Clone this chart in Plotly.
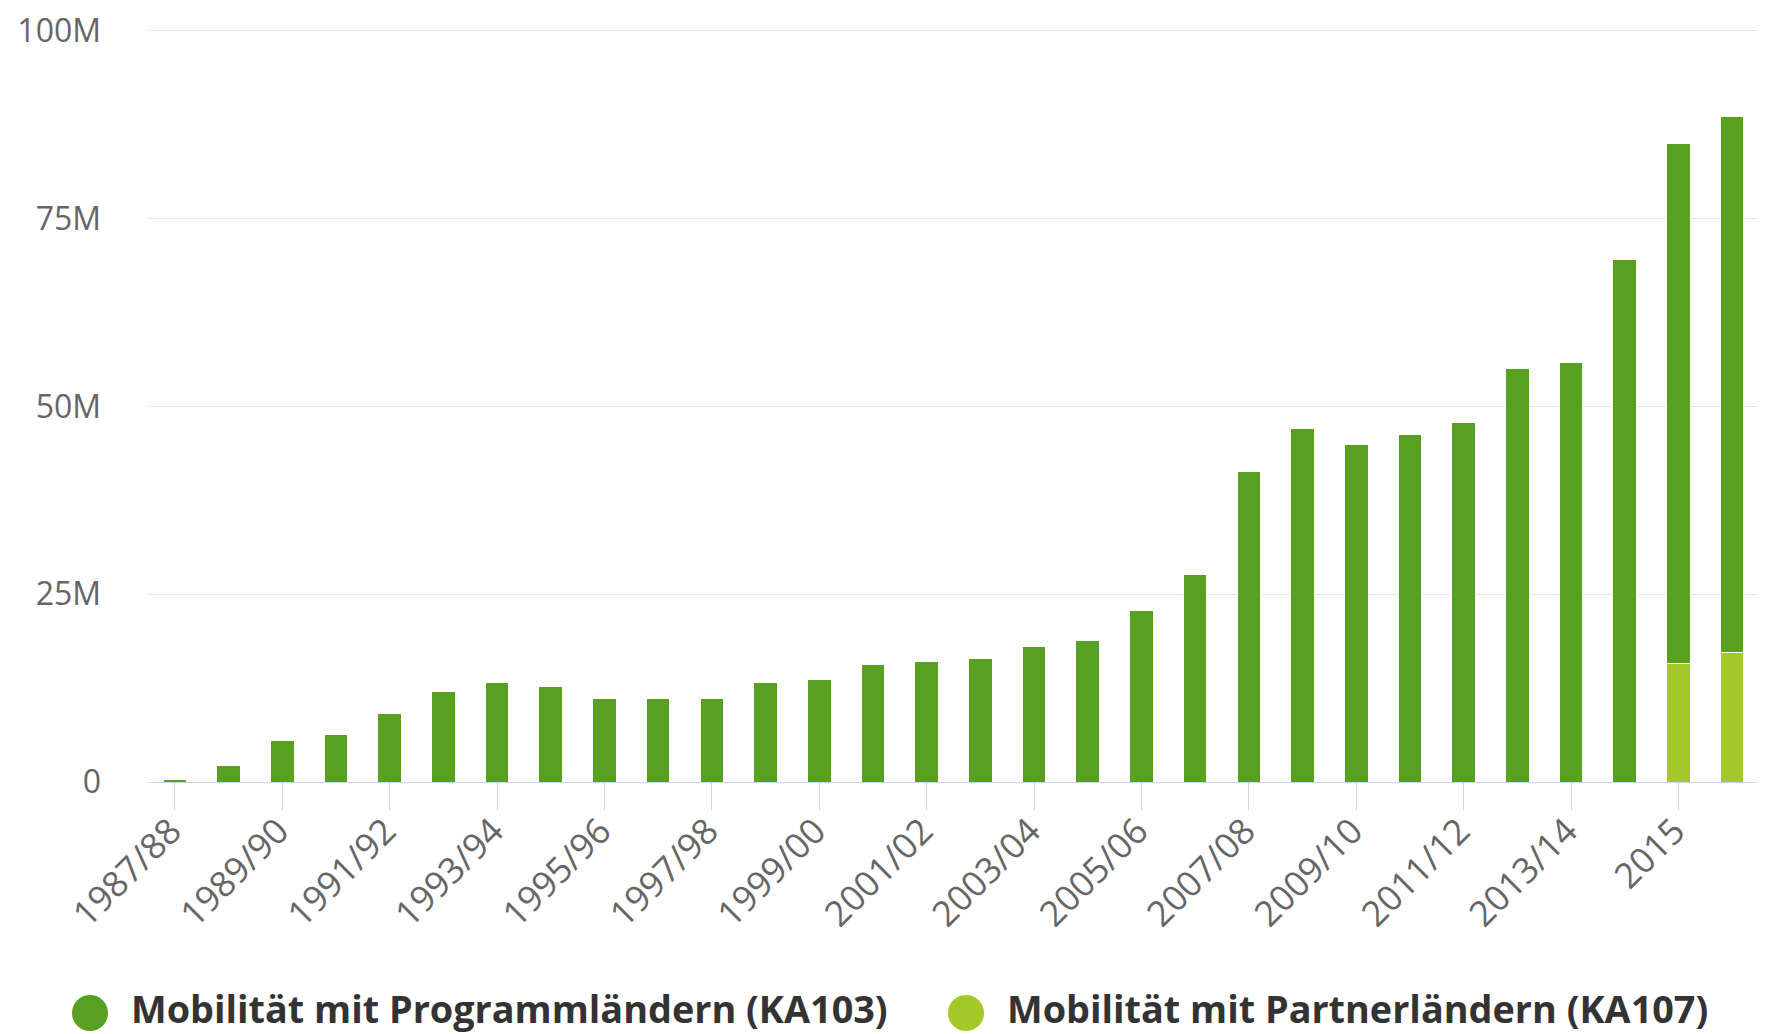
import plotly.graph_objects as go

categories = ["1987/88", "1988/89", "1989/90", "1990/91", "1991/92", "1992/93",
              "1993/94", "1994/95", "1995/96", "1996/97", "1997/98", "1998/99",
              "1999/00", "2000/01", "2001/02", "2002/03", "2003/04", "2004/05",
              "2005/06", "2006/07", "2007/08", "2008/09", "2009/10", "2010/11",
              "2011/12", "2012/13", "2013/14", "2014", "2015", "2016"]

ka103 = [0.4, 2.2, 5.5, 6.3, 9.1, 12.0, 13.2, 12.7, 11.1, 11.1, 11.1, 13.2,
         13.6, 15.6, 16.0, 16.5, 18.0, 18.9, 22.8, 27.6, 41.4, 47.1, 45.0, 46.2,
         47.8, 55.0, 55.8, 69.6, 69.2, 71.3]
ka107 = [None] * 28 + [15.8, 17.3]

series_names = ["Mobilität mit Programmländern (KA103)",
                "Mobilität mit Partnerländern (KA107)"]
series_colors = ["#58a022", "#a3c928"]

y_tickvals = [0, 25, 50, 75, 100]
y_ticktext = ["0", "25M", "50M", "75M", "100M"]

scale = 1e6
fig = go.Figure()
fig.add_trace(go.Bar(x=categories, y=[v * scale if v is not None else None for v in ka107],
                     name=series_names[1], marker=dict(color=series_colors[1], line=dict(color="white", width=1)),
                     showlegend=False))
fig.add_trace(go.Bar(x=categories, y=[v * scale for v in ka103],
                     name=series_names[0], marker=dict(color=series_colors[0], line=dict(color="white", width=1)),
                     showlegend=False))

# page has an 8px body margin; figure coordinates = page coordinates - 8
OFF = 8
W, H = 1765 - OFF, 1034 - OFF
L, R, T, B = 148 - OFF, 6, 29 - OFF, 252
pw, ph = W - L - R, H - T - B

def px_x(p):
    return (p - OFF - L) / pw

def px_y(p):
    return (H - B - (p - OFF)) / ph

legend_items = [(90, 129), (966, 1005)]
shapes = []
annotations = []
for (cx, tx), name, col in zip(legend_items, series_names, series_colors):
    cy = 1013
    r = 18
    shapes.append(dict(type="circle", xref="paper", yref="paper",
                       x0=px_x(cx - r), x1=px_x(cx + r), y0=px_y(cy + r), y1=px_y(cy - r),
                       fillcolor=col, line=dict(width=0)))
    annotations.append(dict(xref="paper", yref="paper", x=px_x(tx), y=px_y(1008),
                            xanchor="left", yanchor="middle", showarrow=False,
                            text="<b>" + name + "</b>",
                            font=dict(family="Open Sans", size=37.8, color="#333333")))

fig.update_layout(
    barmode="stack",
    bargap=0.56,
    width=W, height=H,
    margin=dict(l=L, r=R, t=T, b=B, autoexpand=False),
    plot_bgcolor="white", paper_bgcolor="white",
    showlegend=False,
    shapes=shapes,
    annotations=annotations,
    xaxis=dict(
        type="category",
        tickmode="array",
        tickvals=categories[::2],
        ticktext=categories[::2],
        tickangle=-45,
        ticks="outside", ticklen=27, tickcolor="#ccd6eb", tickwidth=1,
        showline=True, linecolor="#ccd6eb", linewidth=1,
        showgrid=False,
        automargin=False,
        ticklabelstandoff=-14,
        ticklabelshift=-4,
        tickfont=dict(family="Open Sans", size=35.5, color="#666666"),
    ),
    yaxis=dict(
        range=[0, 100.25 * scale],
        tickmode="array",
        tickvals=[v * scale for v in y_tickvals],
        ticktext=y_ticktext,
        showgrid=True, gridcolor="#e6e6e6", gridwidth=1,
        zeroline=False,
        automargin=False,
        ticklabelstandoff=46,
        ticklabeloverflow="allow",
        tickfont=dict(family="Open Sans", size=32, color="#666666"),
    ),
)

fig.write_html("out.html")
